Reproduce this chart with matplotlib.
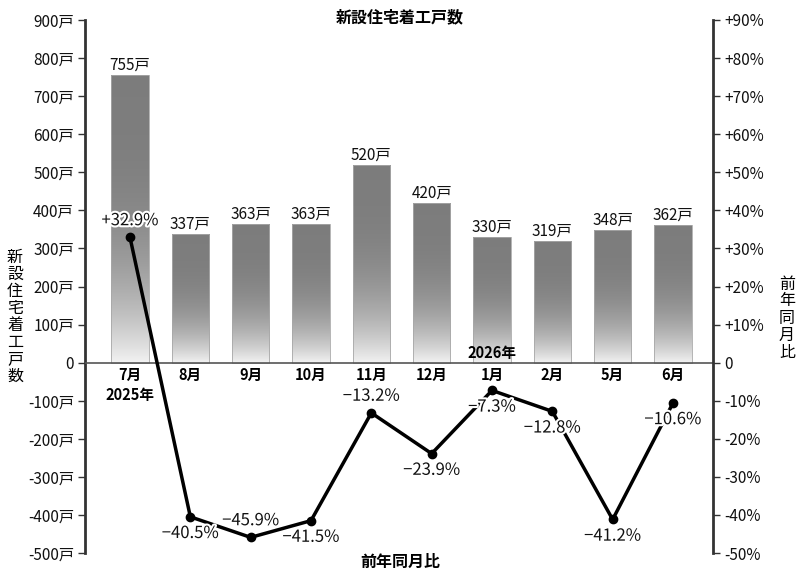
import numpy as np
import matplotlib
matplotlib.use('Agg')
import matplotlib.pyplot as plt
import matplotlib.patheffects as pe
from matplotlib.patches import Rectangle

plt.rcParams['font.family'] = ['Noto Sans CJK JP', 'DejaVu Sans']
plt.rcParams['axes.unicode_minus'] = False

# data
months = ['7月', '8月', '9月', '10月', '11月', '12月', '1月', '2月', '5月', '6月']
units = [755, 337, 363, 363, 520, 420, 330, 319, 348, 362]
yoy = [32.9, -40.5, -45.9, -41.5, -13.2, -23.9, -7.3, -12.8, -41.2, -10.6]
year_labels = {0: '2025年', 6: '2026年'}

left_ticks = list(range(-500, 1000, 100))
right_ticks = list(range(-50, 100, 10))

axis_col = '#333333'

fig = plt.figure(figsize=(8, 5.78), dpi=100)
ax = fig.add_axes([85/800, 25/578, 628/800, 533/578])
ax2 = ax.twinx()

x = np.arange(len(months))
w = 0.62

# bars: grey at the top, fading to near white at zero
f = np.linspace(0, 1, 256)
g = 0.49 + 0.46 * (1 - f) ** 3
grad = np.repeat(g.reshape(-1, 1, 1), 3, axis=2)
for xi, h in zip(x, units):
    rect = Rectangle((xi - w/2, 0), w, h, facecolor='none', edgecolor='#a8a8a8', lw=0.6, zorder=3)
    ax.add_patch(rect)
    im = ax.imshow(grad, origin='lower', aspect='auto', interpolation='bilinear',
                   extent=[xi - w/2, xi + w/2, 0, h], zorder=2)
    im.set_clip_path(rect)
    ax.annotate(f'{h}戸', (xi, h), xytext=(0, 1), textcoords='offset points',
                ha='center', va='bottom', fontsize=11, color='#111111')

ax.axhline(0, color='#555555', lw=1.2, zorder=4)

ax.set_xlim(-0.746, 9.663)
ax.set_ylim(-500, 900)
ax.set_yticks(left_ticks)
ax.set_yticklabels(['0' if v == 0 else f'{v}戸' for v in left_ticks])
ax.set_xticks([])

ax2.set_ylim(-50, 90)
ax2.set_yticks(right_ticks)
ax2.set_yticklabels(['0' if v == 0 else (f'+{v}%' if v > 0 else f'{v}%') for v in right_ticks])

for a in (ax, ax2):
    for s in ('top', 'bottom'):
        a.spines[s].set_visible(False)
    a.tick_params(axis='y', length=5, width=1, color=axis_col, labelsize=11, labelcolor='#111111', pad=3)
ax.spines['left'].set_color(axis_col)
ax.spines['left'].set_linewidth(2)
ax.spines['right'].set_visible(False)
ax2.spines['left'].set_visible(False)
ax2.spines['right'].set_color(axis_col)
ax2.spines['right'].set_linewidth(2)

# month labels and years
for xi, m in zip(x, months):
    ax.annotate(m, (xi, 0), xytext=(0, -9), textcoords='offset points',
                ha='center', va='center', fontsize=10.5, fontweight='bold')
for xi, yl in year_labels.items():
    dy = -23 if xi == 0 else 7
    ax.annotate(yl, (xi, 0), xytext=(0, dy), textcoords='offset points',
                ha='center', va='center', fontsize=10.5, fontweight='bold')

# yoy line
ax2.plot(x, yoy, color='black', lw=2.5, marker='o', markersize=6, zorder=5)
above = [True, False, True, False, True, False, False, False, False, False]
halo = [pe.withStroke(linewidth=3, foreground='white')]
for xi, v, up in zip(x, yoy, above):
    s = (f'+{v:.1f}%' if v > 0 else f'\u2212{abs(v):.1f}%')
    dy = 12 if up else -12
    ax2.annotate(s, (xi, v), xytext=(0, dy), textcoords='offset points',
                 ha='center', va='center', fontsize=12, color='#111111',
                 path_effects=halo, zorder=6)

fig.text(0.5, 1 - 17/578, '新設住宅着工戸数', ha='center', va='center', fontsize=11.5, fontweight='bold')
fig.text(0.5, 1 - 562/578, '前年同月比', ha='center', va='center', fontsize=11.5, fontweight='bold')
fig.text(15/800, 1 - 317/578, '\n'.join('新設住宅着工戸数'), ha='center', va='center',
         fontsize=11.5, linespacing=1.0)
fig.text(787/800, 1 - 318/578, '\n'.join('前年同月比'), ha='center', va='center',
         fontsize=11.5, linespacing=1.0)

fig.savefig('out.png', dpi=100)
